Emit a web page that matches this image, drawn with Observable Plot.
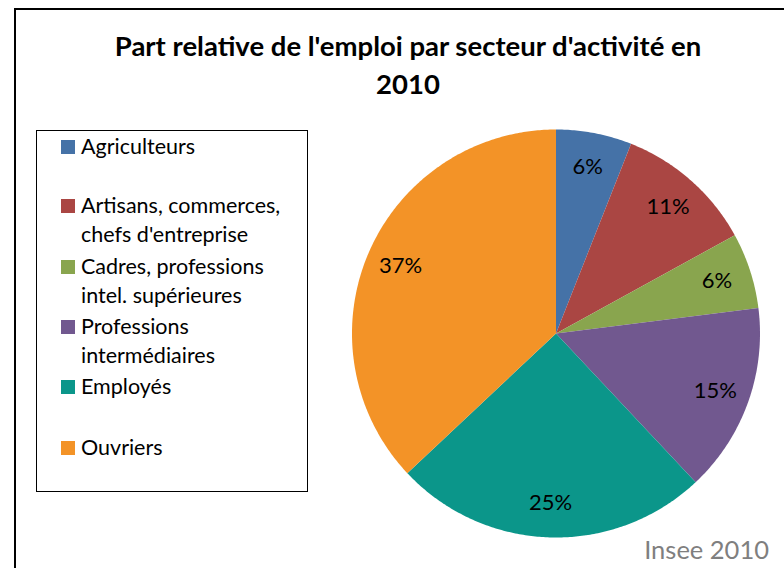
<!DOCTYPE html>
<html><head><meta charset="utf-8">
<script src="https://cdn.jsdelivr.net/npm/d3@7"></script>
<script src="https://cdn.jsdelivr.net/npm/@observablehq/plot@0.6"></script>
<style>
body{margin:0;background:#fff;}
#wrap{position:relative;width:784px;height:568px;overflow:hidden;font-family:Lato,"Open Sans",sans-serif;color:#000;}
#frame{position:absolute;left:14px;top:8px;width:800px;height:600px;border:2px solid #000;box-sizing:border-box;}
#title{position:absolute;left:15px;width:786px;top:27px;text-align:center;font-weight:bold;font-size:27.5px;line-height:38px;}
#legend{position:absolute;left:36px;top:130px;width:272px;height:362px;border:1.5px solid #000;box-sizing:border-box;}
.item{position:absolute;left:24px;width:230px;font-size:21.5px;line-height:29px;}
.sw{position:absolute;left:0px;top:8px;width:14px;height:14px;}
.txt{position:absolute;left:20px;width:218px;top:0;}
#caption{position:absolute;right:15px;top:534px;font-size:25.5px;color:#7f7f7f;}
#plot{position:absolute;left:0;top:0;}
</style></head>
<body>
<div id="wrap">
<div id="frame"></div>
<div id="title">Part relative de l'emploi par secteur d'activité en<br>2010</div>
<div id="legend"></div>
<div id="plot"></div>
<div id="caption">Insee 2010</div>
</div>
<script>
const categories = ["Agriculteurs","Artisans, commerces, chefs d'entreprise","Cadres, professions intel. supérieures","Professions intermédiaires","Employés","Ouvriers"];
const values = [6, 11, 6, 15, 25, 37];
const colors = ["#4572a7","#aa4643","#89a54e","#71588f","#0b968a","#f39327"];
const caption = "Insee 2010";

const pie = d3.pie().sort(null).value(d => d.value)(categories.map((c,i)=>({category:c,value:values[i]})));
// polygon outline for each slice (unit radius, angle clockwise from top)
const outline = [];
pie.forEach(p => {
  const n = Math.max(2, Math.ceil((p.endAngle - p.startAngle) / 0.01));
  outline.push({category:p.data.category, x:0, y:0});
  for (let k=0;k<=n;k++){
    const a = p.startAngle + (p.endAngle - p.startAngle)*k/n;
    outline.push({category:p.data.category, x:Math.sin(a), y:Math.cos(a)});
  }
  outline.push({category:p.data.category, x:0, y:0});
});
const labels = pie.map(p => {
  const a = (p.startAngle + p.endAngle)/2;
  return {x:0.83*Math.sin(a), y:0.83*Math.cos(a), text: p.data.value + "%"};
});

const chart = Plot.plot({
  width:784, height:568,
  margin:0,
  x:{domain:[-1,1], range:[351.5,759.5], axis:null},
  y:{domain:[-1,1], range:[537,129], axis:null},
  color:{domain:categories, range:colors},
  style:{background:"transparent", fontFamily:"Lato, 'Open Sans', sans-serif"},
  marks:[
    Plot.line(outline, {x:"x", y:"y", z:"category", fill:"category", stroke:"none", curve:"linear"}),
    Plot.text(labels, {x:"x", y:"y", text:"text", fontSize:22, fill:"#000"})
  ]
});
document.getElementById("plot").appendChild(chart);

const lg = document.getElementById("legend");
const tops = [1, 60, 121, 181, 241, 302];
categories.forEach((c,i)=>{
  const it = document.createElement("div");
  it.className="item"; it.style.top = tops[i] + "px";
  it.innerHTML = `<div class="sw" style="background:${colors[i]}"></div><div class="txt">${c}</div>`;
  lg.appendChild(it);
});
document.getElementById("caption").textContent = caption;
</script>
</body></html>
